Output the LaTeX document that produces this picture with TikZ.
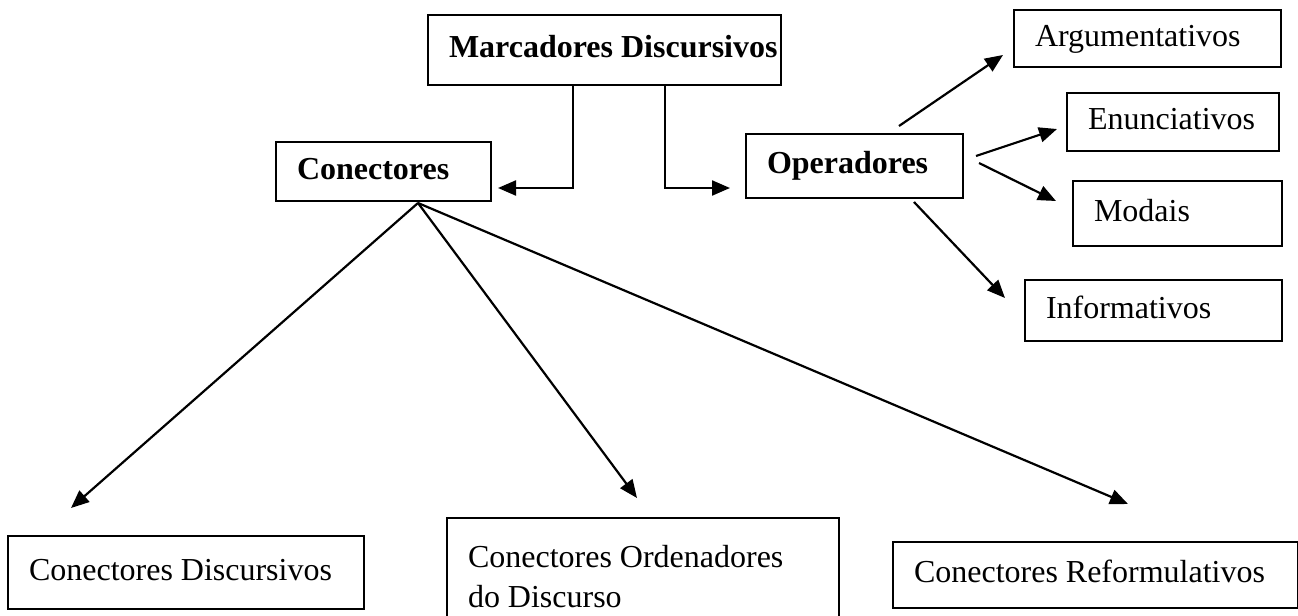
\documentclass[tikz,border=0pt]{standalone}
\usepackage{fontspec}
\setmainfont{Liberation Serif}
\usetikzlibrary{arrows.meta,calc}

\begin{document}
\begin{tikzpicture}[x=0.5pt,y=-0.5pt,
    blk/.style={draw,line width=1pt,anchor=north west,inner xsep=0pt,inner ysep=0pt,
      align=flush left,font=\fontsize{16}{20}\selectfont,
      execute at begin node={\leftskip=10.5pt}},
    one/.style={text height=11pt,text depth=3.5pt},
    bold/.style={font=\fontsize{16}{20}\selectfont\bfseries},
    arr/.style={line width=1.1pt,-{Triangle[length=9pt,width=7.5pt]}}]
      \useasboundingbox (0,0) rectangle (1298,616);
      \path
      (427,14) node[blk,one,bold,text width=176.5pt,minimum height=35pt](marc) {Marcadores Discursivos}
      (275,141) node[blk,one,bold,text width=107.5pt,minimum height=29.5pt](con) {Conectores}
      (745,133) node[blk,one,bold,text width=108.5pt,minimum height=32pt](oper) {Operadores}
      (1013,9) node[blk,one,text width=133.5pt,minimum height=28.5pt](arg) {Argumentativos}
      (1066,92) node[blk,one,text width=106pt,minimum height=29pt](enun) {Enunciativos}
      (1072,180) node[blk,one,text width=104.5pt,minimum height=32.5pt](mod) {Modais}
      (1024,279) node[blk,one,text width=128.5pt,minimum height=30.5pt](inf) {Informativos}
      (7,535) node[blk,one,text width=178pt,minimum height=36.5pt](disc) {Conectores Discursivos}
      (446,517) node[blk,text width=196pt,minimum height=59pt](ord) {Conectores Ordenadores\\do Discurso}
      (892,541) node[blk,one,text width=202.5pt,minimum height=33pt](ref) {Conectores Reformulativos}
      ;
      \coordinate (fan) at ($(con.south)+(34.5,1)$);

      \draw[arr] ($(marc.south)+(-31.5,0)$) |- ($(con.east)+(6,16.5)$);
      \draw[arr] ($(marc.south)+(60.5,0)$) |- ($(oper.west)+(-15,22)$);
      \draw[arr] ($(oper.north)+(44.5,-7)$) -- ($(arg.west)+(-10,16.5)$);
      \draw[arr] ($(oper.east)+(12,-10)$) -- ($(enun.west)+(-9,7)$);
      \draw[arr] ($(oper.east)+(15,-3)$) -- ($(mod.west)+(-16,-12.5)$);
      \draw[arr] ($(oper.south)+(59.5,3)$) -- ($(inf.west)+(-19,-12.5)$);
      \draw[arr] (fan) -- ($(disc.north)+(-115,-27)$);
      \draw[arr] (fan) -- ($(ord.north)+(-6,-19)$);
      \draw[arr] (fan) -- ($(ref.north)+(32.5,-37)$);
    \end{tikzpicture}
\end{document}
